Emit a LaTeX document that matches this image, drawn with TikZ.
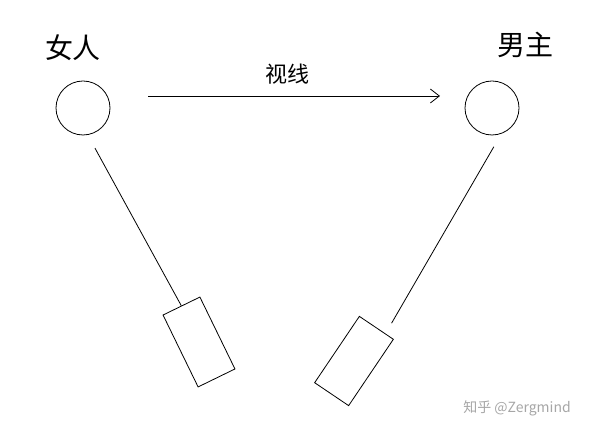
\documentclass[tikz,border=0pt]{standalone}
\usepackage{fontspec}
\newfontfamily\cjk{Noto Sans CJK SC}
\usetikzlibrary{positioning, arrows.meta}

\tikzset{
  person/.style={circle, draw, thick, minimum size=54pt, inner sep=0pt},
  cam/.style={rectangle, draw, thick, minimum width=80pt, minimum height=41pt},
  lbl/.style={font=\cjk\fontsize{28}{30}\selectfont},
}

\begin{document}
\begin{tikzpicture}[x=1pt, y=-1pt]
\useasboundingbox (0,0) rectangle (600,435);

\node[person] (she) at (83,108) {};
\node[person] (he) at (492,108) {};
\node[lbl] at (73,48) {女人};
\node[lbl] at (525,45) {男主};

\node[cam, rotate=-64] (camL) at (199,342) {};
\node[cam, rotate=56] (camR) at (354,361) {};

\draw[thick, -{Straight Barb[length=9pt,width=14pt]}, shorten <=65pt, shorten >=52pt]
  ([yshift=12pt]she.center) -- node[above=8pt, font=\cjk\fontsize{22}{24}\selectfont] {视线} ([yshift=12pt]he.center);

\draw[thick, shorten <=15pt] (she.280) -- (camL.west);
\draw[thick, shorten <=15pt, shorten >=12pt] (he.290) -- (camR.-15);

\node[text=gray!70, font=\cjk\fontsize{14}{16}\selectfont] at (517,408) {知乎 @Zergmind};
\end{tikzpicture}
\end{document}
